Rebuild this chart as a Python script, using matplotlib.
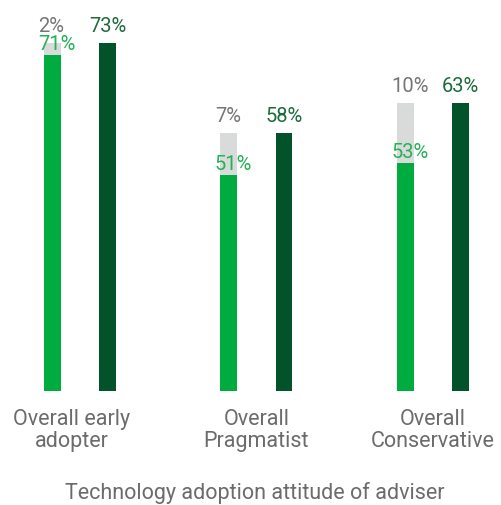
import numpy as np
import matplotlib.pyplot as plt
from matplotlib import font_manager
from matplotlib.transforms import ScaledTranslation

categories = ['Overall early\nadopter', 'Overall\nPragmatist', 'Overall\nConservative']
base_vals = [71, 51, 53]      # light green part
extra_vals = [2, 7, 10]       # grey top
total_vals = [73, 58, 63]     # dark green bar
xlabel = 'Technology adoption attitude of adviser'

light_green = '#00ab3f'
dark_green = '#03532a'
grey = '#d9dada'

names = {f.name for f in font_manager.fontManager.ttflist}
fam = 'Roboto' if 'Roboto' in names else 'DejaVu Sans'
plt.rcParams['font.family'] = [fam, 'DejaVu Sans']

fig = plt.figure(figsize=(5.02, 5.06), dpi=100)
ax = fig.add_axes([0, 0.2253, 1, 0.7747])

x = np.arange(len(categories))
off = 0.156
w = 0.096

ax.bar(x - off, base_vals, w, color=light_green)
ax.bar(x - off, extra_vals, w, bottom=base_vals, color=grey)
ax.bar(x + off, total_vals, w, color=dark_green)

for i in range(len(x)):
    left = x[i] - off - w / 2
    ax.annotate(f'{extra_vals[i]}%', (left, base_vals[i] + extra_vals[i]),
                xytext=(-4, 8.5), textcoords='offset points', ha='left', va='baseline',
                fontsize=14.5, color='#757575')
    ax.annotate(f'{base_vals[i]}%', (left, base_vals[i]),
                xytext=(-4, 4), textcoords='offset points', ha='left', va='baseline',
                fontsize=14.5, color='#25b256')
    ax.annotate(f'{total_vals[i]}%', (x[i] + off, total_vals[i]),
                xytext=(0, 8.5), textcoords='offset points', ha='center', va='baseline',
                fontsize=14.5, color='#1d6b3c')

ax.set_ylim(15, 80.3)
ax.set_xlim(-0.453, 2.391)
ax.set_xticks(x)
ax.set_xticklabels(categories, fontsize=15.5, color='#6b6b6b', linespacing=1.1)
ax.tick_params(axis='x', length=0, pad=12)
ax.set_yticks([])
for s in ax.spines.values():
    s.set_visible(False)

# first category label sits a little left of its group in the original
lab0 = ax.get_xticklabels()[0]
lab0.set_transform(lab0.get_transform() + ScaledTranslation(-0.08, 0, fig.dpi_scale_trans))

fig.text(0.508, 0.026, xlabel, ha='center', va='center', fontsize=15.5, color='#6b6b6b')

fig.savefig('out.png', dpi=100)
